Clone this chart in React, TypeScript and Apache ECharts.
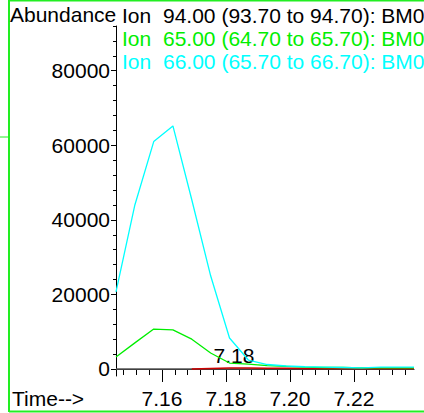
import React, { useEffect, useRef } from "react";
import * as echarts from "echarts";

const times = [7.1456, 7.1515, 7.1574, 7.1634, 7.1693, 7.1752, 7.1811, 7.187, 7.1929, 7.1988, 7.2047, 7.2106, 7.2166, 7.2225, 7.2284, 7.2343, 7.2388];
const ion94 = [0, 0, 0, 0, 0, 0, 0, 0, 0, 0, 0, 0, 0, 0, 0, 0, 0];
const ionRed = [null, null, null, null, 0, 150, 250, 250, 200, 200, 150, 150, 100, 100, 100, 100, 100];
const ion65 = [3200, 7000, 10700, 10500, 8000, 4300, 1600, 1300, 900, 700, 500, 400, 400, 300, 300, 300, 300];
const ion66 = [20700, 44000, 61000, 65200, 45400, 25000, 8300, 2400, 1200, 800, 600, 500, 400, 300, 500, 500, 500];

const yTicks = [0, 20000, 40000, 60000, 80000];
const yMinorTicks = [4000, 8000, 12000, 16000, 24000, 28000, 32000, 36000, 44000, 48000, 52000, 56000, 64000, 68000, 72000, 76000, 84000, 88000, 92000];
const xTicks = [7.16, 7.18, 7.2, 7.22];
const xMinorTicks = [7.148, 7.152, 7.156, 7.164, 7.168, 7.172, 7.176, 7.184, 7.188, 7.192, 7.196, 7.204, 7.208, 7.212, 7.216, 7.224, 7.228, 7.232, 7.236];

const legendIon = "Ion";
const legendTexts = [
  "94.00 (93.70 to 94.70): BM0",
  "65.00 (64.70 to 65.70): BM0",
  "66.00 (65.70 to 66.70): BM0",
];
const legendColors = ["#000000", "#00ee00", "#00ffff"];

const FONT = "Liberation Sans";
const FS = 21;

function pairs(vals: (number | null)[]) {
  return times.map((t, i) => [t, vals[i]]);
}

export default function App() {
  const ref = useRef<HTMLDivElement>(null);
  useEffect(() => {
    if (!ref.current) return;
    const chart = echarts.init(ref.current, null, { renderer: "svg" });
    const yMin = -1880;
    const yMax = 92000;
    const xMin = 7.1456;
    const xMax = 7.2388;
    const lineCommon = {
      type: "line" as const,
      showSymbol: false,
      silent: true,
      connectNulls: false,
      emphasis: { disabled: true },
    };
    const txt = (text: string, x: number, y: number, fill: string, align = "left") => ({
      type: "text",
      silent: true,
      x,
      y,
      style: { text, fontSize: FS, fontFamily: FONT, fill, align, verticalAlign: "middle" },
    });
    chart.setOption({
      animation: false,
      grid: { left: 116, right: 10, top: 26, bottom: 37 },
      xAxis: [
        {
          type: "value",
          min: xMin,
          max: xMax,
          axisLine: { show: true, lineStyle: { color: "#000", width: 1 } },
          axisTick: { show: true, length: 13, customValues: xTicks, lineStyle: { color: "#000" } },
          axisLabel: {
            customValues: xTicks,
            formatter: (v: number) => v.toFixed(2),
            fontSize: FS,
            fontFamily: FONT,
            color: "#000",
            margin: 12,
          },
          splitLine: { show: false },
        },
        {
          type: "value",
          position: "bottom",
          min: xMin,
          max: xMax,
          axisLine: { show: false },
          axisTick: { show: true, length: 6, customValues: xMinorTicks, lineStyle: { color: "#000" } },
          axisLabel: { show: false },
          splitLine: { show: false },
        },
      ],
      yAxis: [
        {
          type: "value",
          min: yMin,
          max: yMax,
          axisLine: { show: true, lineStyle: { color: "#000", width: 1 } },
          axisTick: { show: true, length: 5, customValues: yTicks, lineStyle: { color: "#000" } },
          axisLabel: {
            customValues: yTicks,
            formatter: (v: number) => String(Math.round(v)),
            fontSize: FS,
            fontFamily: FONT,
            color: "#000",
            margin: 6,
          },
          splitLine: { show: false },
        },
        {
          type: "value",
          position: "left",
          min: yMin,
          max: yMax,
          axisLine: { show: false },
          axisTick: { show: true, length: 3, customValues: yMinorTicks, lineStyle: { color: "#000" } },
          axisLabel: { show: false },
          splitLine: { show: false },
        },
      ],
      series: [
        { ...lineCommon, name: "Ion 94", data: pairs(ion94), lineStyle: { color: "#555555", width: 1.5 } },
        { ...lineCommon, name: "Other", data: pairs(ionRed), lineStyle: { color: "#cc0000", width: 1.5 } },
        { ...lineCommon, name: "Ion 65", data: pairs(ion65), lineStyle: { color: "#00ee00", width: 1.3 } },
        { ...lineCommon, name: "Ion 66", data: pairs(ion66), lineStyle: { color: "#00ffff", width: 1.3 } },
      ],
      graphic: [
        { type: "line", silent: true, shape: { x1: 9, y1: 0.5, x2: 430, y2: 0.5 }, style: { stroke: "#22ee22", lineWidth: 2 } },
        { type: "line", silent: true, shape: { x1: 9, y1: 0, x2: 9, y2: 412 }, style: { stroke: "#22ee22", lineWidth: 2 } },
        { type: "line", silent: true, shape: { x1: 9, y1: 411.5, x2: 430, y2: 411.5 }, style: { stroke: "#22ee22", lineWidth: 2 } },
        { type: "line", silent: true, shape: { x1: 0, y1: 137, x2: 9, y2: 137 }, style: { stroke: "#22ee22", lineWidth: 1 } },
        txt("Abundance", 10, 14, "#000"),
        txt("Time-->", 12, 398, "#000"),
        txt("7.18", 234, 355, "#000", "center"),
        ...legendTexts.flatMap((t, i) => [
          txt(legendIon, 122, 15 + i * 23, legendColors[i]),
          txt(t, 163, 15 + i * 23, legendColors[i]),
        ]),
      ],
    });
    return () => chart.dispose();
  }, []);
  return <div ref={ref} style={{ position: "fixed", left: 0, top: 0, width: 424, height: 413, background: "#fff" }} />;
}
